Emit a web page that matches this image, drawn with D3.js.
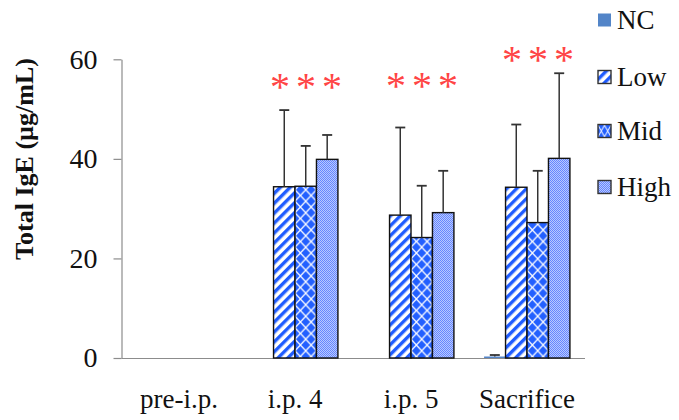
<!DOCTYPE html>
<html>
<head>
<meta charset="utf-8">
<script src="https://cdn.jsdelivr.net/npm/d3@7"></script>
<style>
  html, body { margin: 0; padding: 0; background: #fff; }
  svg { display: block; }
</style>
</head>
<body>
<svg id="chart" width="679" height="420"></svg>
<script>
// Time points and treatment groups
const categories = ["pre-i.p.", "i.p. 4", "i.p. 5", "Sacrifice"];
const seriesNames = ["NC", "Low", "Mid", "High"];

// Mean total IgE (µg/mL) per group and time point
const ncMean   = [0, 0, 0, 0.3];
const lowMean  = [0, 34.4, 28.7, 34.3];
const midMean  = [0, 34.5, 24.2, 27.2];
const highMean = [0, 39.9, 29.2, 40.1];

// Standard deviations (upper error bars)
const ncSD   = [0, 0, 0, 0.3];
const lowSD  = [0, 15.4, 17.6, 12.6];
const midSD  = [0, 8.1, 10.4, 10.4];
const highSD = [0, 4.9, 8.4, 17.1];

// Significance markers and the level they sit at
const starLabels = ["", "***", "***", "***"];
const starLevels = [0, 55.3, 55.4, 60.6];

const yTicks = [0, 20, 40, 60];

const means = [ncMean, lowMean, midMean, highMean];
const sds = [ncSD, lowSD, midSD, highSD];

const SERIF = "Liberation Serif, Times New Roman, serif";

const svg = d3.select("#chart");
const defs = svg.append("defs");

// Diagonal stripes
const pLow = defs.append("pattern").attr("id", "pat-low")
  .attr("patternUnits", "userSpaceOnUse").attr("width", 7).attr("height", 7)
  .attr("patternTransform", "rotate(45)");
pLow.append("rect").attr("width", 7).attr("height", 7).attr("fill", "#fff");
pLow.append("rect").attr("x", 0).attr("width", 3.4).attr("height", 7).attr("fill", "#1f5cff");

// Diamond lattice, anchored at a given x so each bar gets whole columns
function diamondPattern(id, x0pos, w) {
  const pw = w / 2, ph = 11.5;
  const p = defs.append("pattern").attr("id", id)
    .attr("patternUnits", "userSpaceOnUse")
    .attr("x", x0pos).attr("y", 0).attr("width", pw).attr("height", ph);
  p.append("rect").attr("width", pw).attr("height", ph).attr("fill", "#fff");
  const rx = pw * 0.42, ry = ph * 0.42;
  const dia = (cx, cy) => `M${cx},${cy - ry}L${cx + rx},${cy}L${cx},${cy + ry}L${cx - rx},${cy}Z`;
  [[0, 0], [pw, 0], [0, ph], [pw, ph], [pw / 2, ph / 2]].forEach(([cx, cy]) => {
    p.append("path").attr("d", dia(cx, cy)).attr("fill", "#2360ff");
  });
  return `url(#${id})`;
}

// Fine dotted light blue
const pHigh = defs.append("pattern").attr("id", "pat-high")
  .attr("patternUnits", "userSpaceOnUse").attr("width", 2).attr("height", 2);
pHigh.append("rect").attr("width", 2).attr("height", 2).attr("fill", "#b8c9ff");
pHigh.append("rect").attr("width", 1).attr("height", 1).attr("fill", "#6686ff");
pHigh.append("rect").attr("x", 1).attr("y", 1).attr("width", 1).attr("height", 1).attr("fill", "#6686ff");

// Scales
const x0 = d3.scaleBand().domain(categories).range([121, 585])
  .paddingInner(0.26).paddingOuter(0.13);
const x1 = d3.scaleBand().domain(seriesNames).range([0, x0.bandwidth()]);
const y = d3.scaleLinear().domain([0, 60]).range([358, 59.3]);

function fillFor(si, key, bx, bw) {
  if (si === 0) return "#5385c8";
  if (si === 1) return "url(#pat-low)";
  if (si === 2) return diamondPattern("pat-mid-" + key, bx, bw);
  return "url(#pat-high)";
}

// Y axis
const yAxis = svg.append("g").attr("transform", "translate(121.5,0)")
  .call(d3.axisLeft(y).tickValues(yTicks).tickSize(8).tickPadding(16).tickSizeOuter(0));
yAxis.select(".domain").attr("stroke", "#8c8c8c").attr("stroke-width", 1.2);
yAxis.selectAll(".tick line").attr("stroke", "#8c8c8c").attr("stroke-width", 1.2);
yAxis.selectAll(".tick text").attr("font-size", 28).attr("font-family", SERIF).attr("fill", "#111");

// X axis baseline and labels
const xAxis = svg.append("g").attr("transform", "translate(0,358.5)")
  .call(d3.axisBottom(x0).tickSize(0).tickPadding(30));
xAxis.select(".domain").attr("stroke", "#8c8c8c").attr("stroke-width", 1.2)
  .attr("d", "M121.5,0H585");
xAxis.selectAll(".tick text").attr("font-size", 27).attr("font-family", SERIF).attr("fill", "#111");

// Y axis title
svg.append("text")
  .attr("transform", "translate(33,159) rotate(-90)")
  .attr("text-anchor", "middle")
  .attr("font-family", SERIF)
  .attr("font-size", 26).attr("font-weight", "bold")
  .attr("fill", "#111")
  .text("Total IgE (\u00b5g/mL)");

// Bars with upper error bars
const barLayer = svg.append("g");
categories.forEach((cat, ci) => {
  seriesNames.forEach((s, si) => {
    const v = means[si][ci];
    if (!v) return;
    const bw = x1.bandwidth();
    const bx = x0(cat) + x1(s);
    barLayer.append("rect")
      .attr("x", bx).attr("y", y(v))
      .attr("width", bw).attr("height", y(0) - y(v))
      .attr("fill", fillFor(si, ci, bx, bw))
      .attr("stroke", si === 0 ? "none" : "#111")
      .attr("stroke-width", 1.4);
    const top = y(v + sds[si][ci]);
    const cx = bx + bw / 2;
    barLayer.append("line").attr("x1", cx).attr("x2", cx).attr("y1", y(v)).attr("y2", top)
      .attr("stroke", "#333").attr("stroke-width", 1.5);
    barLayer.append("line").attr("x1", cx - 5).attr("x2", cx + 5).attr("y1", top).attr("y2", top)
      .attr("stroke", "#333").attr("stroke-width", 1.8);
  });
});

// Significance asterisks over the treated groups
svg.append("g").selectAll("text").data(categories.filter((c, i) => starLabels[i]))
  .join("text")
  .attr("x", d => x0(d) + x0.bandwidth() / 2 + 14)
  .attr("y", d => y(starLevels[categories.indexOf(d)]) + 17)
  .attr("text-anchor", "middle")
  .attr("font-family", SERIF)
  .attr("font-size", 40)
  .attr("letter-spacing", 6)
  .attr("fill", "#ff4545")
  .text(d => starLabels[categories.indexOf(d)]);

// Legend
const legendY = [20, 77, 131, 187];
const legend = svg.append("g").selectAll("g").data(seriesNames).join("g")
  .attr("transform", (d, i) => `translate(598,${legendY[i]})`);
legend.append("rect")
  .attr("x", 0).attr("y", -6.5).attr("width", 13).attr("height", 13)
  .attr("fill", (d, i) => i === 2 ? diamondPattern("pat-mid-legend", 598, 13) : fillFor(i, "lg", 598, 13))
  .attr("stroke", (d, i) => i === 0 ? "none" : "#333")
  .attr("stroke-width", 1.4);
legend.append("text")
  .attr("x", 19).attr("y", 8.5)
  .attr("font-family", SERIF)
  .attr("font-size", 27)
  .attr("fill", "#111")
  .text(d => d);
</script>
</body>
</html>
